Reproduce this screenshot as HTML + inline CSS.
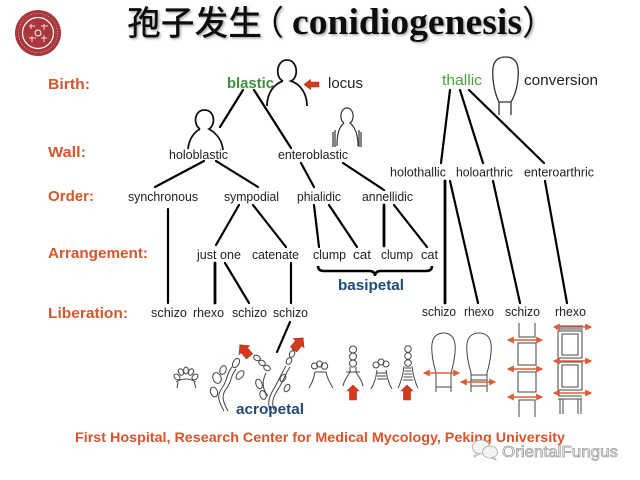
<!DOCTYPE html>
<html><head><meta charset="utf-8"><style>
html,body{margin:0;padding:0;background:#fff;}
svg{display:block;}
.lbl{font-family:"Liberation Sans",Arial,sans-serif;font-weight:bold;font-size:15px;fill:#d4572e;}
.nd{font-family:"Liberation Sans",Arial,sans-serif;font-size:12.5px;fill:#222;}
.ln{stroke:#000;stroke-width:2.2;fill:none;stroke-linecap:round;}
.dr{stroke:#444;stroke-width:1;fill:none;}
.ra{fill:#d63a1a;stroke:#a8301a;stroke-width:0.6;}
.da{stroke:#d9603a;stroke-width:1.4;fill:none;}
</style></head><body>
<svg width="640" height="480" viewBox="0 0 640 480" xmlns="http://www.w3.org/2000/svg">
<defs>
<filter id="sh" x="-5%" y="-20%" width="110%" height="150%">
<feDropShadow dx="1.5" dy="1.5" stdDeviation="1" flood-color="#777" flood-opacity="0.6"/>
</filter>
<marker id="ah" viewBox="0 0 6 6" refX="5" refY="3" markerWidth="5" markerHeight="5" orient="auto-start-reverse">
<path d="M0,0 L6,3 L0,6 Z" fill="#d9603a"/>
</marker>
</defs>
<rect width="640" height="480" fill="#fff"/>

<!-- logo -->
<circle cx="38" cy="33" r="23" fill="#a8383c"/>
<circle cx="38" cy="33" r="15.5" fill="none" stroke="#fff" stroke-width="1.2"/>
<circle cx="38" cy="33" r="19.5" fill="none" stroke="#f3d0d0" stroke-width="0.5" stroke-dasharray="1.5 1.5"/>
<circle cx="38" cy="33" r="3" fill="none" stroke="#fff" stroke-width="1"/>
<path d="M29,26 h6 M31,24 v5 M41,26 h7 M44,24 v6 M29,38 h7 M32,36 v6 M41,38 h6 M44,35 v7" stroke="#fce" stroke-width="1"/>

<!-- title -->
<g filter="url(#sh)">
<text x="127" y="35" font-family="'Noto Sans CJK SC','WenQuanYi Zen Hei',sans-serif" font-size="34" font-weight="500" fill="#111" textLength="135" lengthAdjust="spacingAndGlyphs">孢子发生</text>
<text x="250" y="35" font-family="'Noto Sans CJK SC','WenQuanYi Zen Hei',sans-serif" font-size="34" fill="#111">（</text>
<text x="292" y="34" font-family="'Liberation Serif','Times New Roman',serif" font-size="37" font-weight="bold" fill="#111" textLength="230" lengthAdjust="spacingAndGlyphs">conidiogenesis</text>
<text x="522" y="35" font-family="'Noto Sans CJK SC','WenQuanYi Zen Hei',sans-serif" font-size="34" fill="#111">）</text>
</g>

<!-- row labels -->
<text class="lbl" x="48" y="89" textLength="42" lengthAdjust="spacingAndGlyphs">Birth:</text>
<text class="lbl" x="48" y="157" textLength="38" lengthAdjust="spacingAndGlyphs">Wall:</text>
<text class="lbl" x="48" y="201" textLength="46" lengthAdjust="spacingAndGlyphs">Order:</text>
<text class="lbl" x="48" y="258" textLength="100" lengthAdjust="spacingAndGlyphs">Arrangement:</text>
<text class="lbl" x="48" y="318" textLength="80" lengthAdjust="spacingAndGlyphs">Liberation:</text>

<!-- birth row -->
<text x="227" y="88" font-family="'Liberation Sans',Arial,sans-serif" font-weight="bold" font-size="15" fill="#3f8f3a" textLength="47" lengthAdjust="spacingAndGlyphs">blastic</text>
<text x="328" y="88" font-family="'Liberation Sans',Arial,sans-serif" font-size="15" fill="#222" textLength="35" lengthAdjust="spacingAndGlyphs">locus</text>
<text x="442" y="85" font-family="'Liberation Sans',Arial,sans-serif" font-size="15" fill="#4aa043" textLength="40" lengthAdjust="spacingAndGlyphs">thallic</text>
<text x="524" y="85" font-family="'Liberation Sans',Arial,sans-serif" font-size="15" fill="#222" textLength="74" lengthAdjust="spacingAndGlyphs">conversion</text>

<!-- head figure (locus) -->
<path d="M283,81 C275,78 276,60 287,60 C298,60 299,78 291,81 C300,84 307,93 307,106 M283,81 C274,84 267,93 267,106" stroke="#111" stroke-width="1.8" fill="none"/>
<path class="ra" d="M304,84.5 L310.5,79.5 L310.5,82 L319,82 L319,87 L310.5,87 L310.5,89.5 Z"/>

<!-- balloon conversion -->
<path d="M499,102 C494,92 492,78 493,68 C494,60 499,57 505.5,57 C512,57 517,60 518,68 C519,78 517,92 511,102 M499,102 L511,102 M499,102 L499,115 M511,102 L511,115" stroke="#333" stroke-width="1.3" fill="none"/>

<!-- holoblastic figure -->
<path d="M200,129 C193,125 194,110 204.5,110 C215,110 216,125 209,129 C216,133 222,140 223,150 M200,129 C193,133 189,140 188,149" stroke="#111" stroke-width="1.8" fill="none"/>
<!-- enteroblastic small figure -->
<path d="M344,123 C339,120 340,108 347,108 C354,108 355,120 350,123 C355,127 358,134 358,146 M344,123 C339,127 337,134 337,146" stroke="#333" stroke-width="1.2" fill="none"/>
<path d="M333,132 L333,147 M361,132 L361,147 M335,130 L335,147 M359,130 L359,147" stroke="#333" stroke-width="1.2" fill="none"/>

<!-- tree lines -->
<g class="ln">
<path d="M243,90 L220,127"/>
<path d="M254,90 L291,148"/>
<path d="M450,90 L441,163"/>
<path d="M460,90 L483,163"/>
<path d="M469,90 L544,163"/>
<path d="M204,161 L155,187"/>
<path d="M216,161 L258,187"/>
<path d="M301,163 L314,187"/>
<path d="M343,163 L384,190"/>
<path d="M168,209 L168,303"/>
<path d="M239,205 L216,245"/>
<path d="M253,205 L286,247"/>
<path d="M314,205 L319,247"/>
<path d="M329,205 L357,247"/>
<path d="M384,205 L384,246" stroke-width="2.8"/>
<path d="M394,205 L427,247"/>
<path d="M215,263 L215,303" stroke-width="2.8"/>
<path d="M225,263 L249,303"/>
<path d="M291,263 L291,303"/>
<path d="M445,181 L445,303" stroke-width="2.8"/>
<path d="M450,181 L478,303"/>
<path d="M493,181 L520,303"/>
<path d="M545,181 L567,303"/>
<path d="M290,322 L277,352"/>
</g>

<!-- node labels -->
<text class="nd" x="169" y="159" textLength="59" lengthAdjust="spacingAndGlyphs">holoblastic</text>
<text class="nd" x="278" y="159" textLength="70" lengthAdjust="spacingAndGlyphs">enteroblastic</text>
<text class="nd" x="390" y="176.5" textLength="56" lengthAdjust="spacingAndGlyphs">holothallic</text>
<text class="nd" x="456" y="176.5" textLength="57" lengthAdjust="spacingAndGlyphs">holoarthric</text>
<text class="nd" x="524" y="176.5" textLength="70" lengthAdjust="spacingAndGlyphs">enteroarthric</text>

<text class="nd" x="128" y="201" textLength="70" lengthAdjust="spacingAndGlyphs">synchronous</text>
<text class="nd" x="224" y="201" textLength="55" lengthAdjust="spacingAndGlyphs">sympodial</text>
<text class="nd" x="297" y="201" textLength="44" lengthAdjust="spacingAndGlyphs">phialidic</text>
<text class="nd" x="362" y="201" textLength="51" lengthAdjust="spacingAndGlyphs">annellidic</text>

<text class="nd" x="197" y="259" textLength="44" lengthAdjust="spacingAndGlyphs">just one</text>
<text class="nd" x="252" y="259" textLength="47" lengthAdjust="spacingAndGlyphs">catenate</text>
<text class="nd" x="313" y="259" textLength="33" lengthAdjust="spacingAndGlyphs">clump</text>
<text class="nd" x="353" y="259" textLength="18" lengthAdjust="spacingAndGlyphs">cat</text>
<text class="nd" x="381" y="259" textLength="32" lengthAdjust="spacingAndGlyphs">clump</text>
<text class="nd" x="421" y="259" textLength="17" lengthAdjust="spacingAndGlyphs">cat</text>

<text class="nd" x="151" y="317" textLength="36" lengthAdjust="spacingAndGlyphs">schizo</text>
<text class="nd" x="193" y="317" textLength="31" lengthAdjust="spacingAndGlyphs">rhexo</text>
<text class="nd" x="232" y="317" textLength="35" lengthAdjust="spacingAndGlyphs">schizo</text>
<text class="nd" x="273" y="317" textLength="35" lengthAdjust="spacingAndGlyphs">schizo</text>
<text class="nd" x="422" y="316" textLength="34" lengthAdjust="spacingAndGlyphs">schizo</text>
<text class="nd" x="464" y="316" textLength="30" lengthAdjust="spacingAndGlyphs">rhexo</text>
<text class="nd" x="505" y="316" textLength="35" lengthAdjust="spacingAndGlyphs">schizo</text>
<text class="nd" x="555" y="316" textLength="31" lengthAdjust="spacingAndGlyphs">rhexo</text>

<!-- brace + basipetal -->
<path d="M318,266 Q318,271 324,271 L369,271 Q375,271 375,276 Q375,271 381,271 L426,271 Q432,271 432,266" stroke="#000" stroke-width="2.5" fill="none"/>
<text x="338" y="290" font-family="'Liberation Sans',Arial,sans-serif" font-weight="bold" font-size="15" fill="#1f4a7a" textLength="66" lengthAdjust="spacingAndGlyphs">basipetal</text>

<!-- drawings: acropetal -->
<g class="dr">
<ellipse cx="177" cy="377" rx="2.4" ry="3.4" transform="rotate(-50 177 377)"/>
<ellipse cx="181" cy="372" rx="2.4" ry="3.4" transform="rotate(-25 181 372)"/>
<ellipse cx="186" cy="370.5" rx="2.4" ry="3.4"/>
<ellipse cx="191" cy="372" rx="2.4" ry="3.4" transform="rotate(25 191 372)"/>
<ellipse cx="195" cy="377" rx="2.4" ry="3.4" transform="rotate(50 195 377)"/>
<path d="M176,382 Q186,376 196,382 M178,382 L177,388 M194,382 L196,388"/>

<path d="M224,411 C219,402 216,396 222,388 C228,380 226,374 232,367"/>
<path d="M228,411 C223,402 221,396 226,389 C232,382 230,376 236,369"/>
<ellipse cx="236" cy="363" rx="3" ry="5" transform="rotate(30 236 363)"/>
<ellipse cx="240" cy="375" rx="3" ry="5" transform="rotate(40 240 375)"/>
<ellipse cx="217" cy="378" rx="4" ry="5.5" transform="rotate(-20 217 378)"/>
<ellipse cx="214" cy="392" rx="3.5" ry="5" transform="rotate(-20 214 392)"/>
<ellipse cx="223" cy="370" rx="3" ry="4.5" transform="rotate(20 223 370)"/>

<path d="M270,410 C266,400 272,392 276,385 C280,378 282,372 286,366"/>
<path d="M274,410 C270,400 276,393 280,386 C284,379 286,373 290,367"/>
<path d="M268,396 C262,389 262,381 266,373"/>
<ellipse cx="289" cy="361" rx="2.5" ry="3.5" transform="rotate(30 289 361)"/>
<ellipse cx="292" cy="354" rx="2.5" ry="3.5" transform="rotate(30 292 354)"/>
<ellipse cx="295" cy="347" rx="2.5" ry="3.5" transform="rotate(30 295 347)"/>
<ellipse cx="257" cy="358" rx="3.5" ry="2.5" transform="rotate(30 257 358)"/>
<ellipse cx="262" cy="363" rx="3.5" ry="2.5" transform="rotate(30 262 363)"/>
<ellipse cx="267" cy="368" rx="3.5" ry="2.5" transform="rotate(30 267 368)"/>
<ellipse cx="259" cy="384" rx="3" ry="5" transform="rotate(-20 259 384)"/>
<ellipse cx="263" cy="395" rx="3" ry="4.5" transform="rotate(-20 263 395)"/>
<ellipse cx="283" cy="378" rx="2.5" ry="4" transform="rotate(30 283 378)"/>
<ellipse cx="287" cy="388" rx="2.5" ry="4" transform="rotate(30 287 388)"/>
</g>
<path class="ra" transform="translate(245,351) rotate(-40)" d="M-7,-1 L0,-8 L7,-1 L4,-1 L4,7 L-4,7 L-4,-1 Z"/>
<path class="ra" transform="translate(298,344) rotate(40)" d="M-7,-1 L0,-8 L7,-1 L4,-1 L4,7 L-4,7 L-4,-1 Z"/>
<text x="236" y="414" font-family="'Liberation Sans',Arial,sans-serif" font-weight="bold" font-size="15" fill="#1f4a7a" textLength="68" lengthAdjust="spacingAndGlyphs">acropetal</text>

<!-- drawings: basipetal -->
<g class="dr">
<circle cx="314.5" cy="366" r="3"/><circle cx="319.5" cy="364" r="3"/><circle cx="324.5" cy="366" r="3.2"/>
<path d="M315,372 L326,372 M315,372 C314,378 312,383 309,388 M326,372 C327,378 330,383 333,388"/>

<circle cx="353" cy="349.5" r="3.5"/><circle cx="353" cy="356.5" r="3.5"/><circle cx="353" cy="363.5" r="3.5"/>
<path d="M350,367 L350,372 M356,367 L356,372 M346,372 L360,372 M350,372 C348,376 344,380 343,386 M356,372 C358,376 362,380 363,386"/>

<circle cx="376" cy="365" r="3"/><circle cx="381" cy="362" r="3"/><circle cx="386" cy="364" r="3"/>
<path d="M377,373 L386,373 M377,376 L386,376 M377,379 L387,379 M377,370 C376,379 374,384 371,389 M386,370 C387,379 389,384 392,389"/>

<circle cx="408" cy="349" r="3.3"/><circle cx="408" cy="356" r="3.3"/><circle cx="408" cy="363" r="3.3"/>
<path d="M405,368 L411,368 M404.5,371 L411.5,371 M404,374 L412,374 M403.5,377 L412.5,377 M403,380 L413,380 M404,366 C403,375 401,382 398,388 M412,366 C413,375 415,382 418,388"/>
</g>
<path class="ra" transform="translate(353,392)" d="M-6,-1 L0,-7 L6,-1 L3.5,-1 L3.5,8 L-3.5,8 L-3.5,-1 Z"/>
<path class="ra" transform="translate(407,392)" d="M-6,-1 L0,-7 L6,-1 L3.5,-1 L3.5,8 L-3.5,8 L-3.5,-1 Z"/>

<!-- drawings: thallic -->
<g class="dr" stroke-width="1.2">
<path d="M436,392 L436,373 C433,362 431,352 432,344 C433,336 438,333 443.5,333 C449,333 454,336 455,344 C456,352 454,362 451,373 L451,392 M436,373 L451,373 M436,387 L451,387"/>
<path d="M471,392 L471,373 C468,362 466,352 467,344 C468,336 473,333 479,333 C485,333 490,336 491,344 C492,352 490,362 487,373 L487,392 M471,375 L487,375 M471,380 L487,380 M471,386 L487,386"/>

<path d="M519,323 L519,337 L535,337 L535,323"/>
<rect x="518" y="343" width="18" height="22"/>
<rect x="518" y="372" width="18" height="20"/>
<path d="M519,417 L519,400 L535,400 L535,417"/>

<path d="M556,326 L583,326 M556,329 L583,329"/>
<rect x="558" y="331" width="24" height="27"/>
<rect x="562" y="334" width="16" height="21"/>
<rect x="558" y="362" width="24" height="28"/>
<rect x="562" y="365" width="16" height="22"/>
<path d="M558,396 L582,396 M558,399 L582,399 M560,399 L560,414 M563,399 L563,414 M578,399 L578,414 M581,399 L581,414"/>
</g>
<g class="da">
<path d="M424,373 L459,373" marker-start="url(#ah)" marker-end="url(#ah)"/>
<path d="M461,382 L495,382" marker-start="url(#ah)" marker-end="url(#ah)"/>
<path d="M508,340 L542,340" marker-start="url(#ah)" marker-end="url(#ah)"/>
<path d="M508,369 L542,369" marker-start="url(#ah)" marker-end="url(#ah)"/>
<path d="M508,397 L542,397" marker-start="url(#ah)" marker-end="url(#ah)"/>
<path d="M554,327 L591,327" marker-start="url(#ah)" marker-end="url(#ah)"/>
<path d="M554,361 L591,361" marker-start="url(#ah)" marker-end="url(#ah)"/>
<path d="M554,393 L591,393" marker-start="url(#ah)" marker-end="url(#ah)"/>
</g>

<!-- footer -->
<text x="75" y="442" font-family="'Liberation Sans',Arial,sans-serif" font-weight="bold" font-size="14" fill="#d9542c" textLength="490" lengthAdjust="spacingAndGlyphs">First Hospital, Research Center for Medical Mycology, Peking University</text>

<!-- watermark -->
<g fill="#f4f4f4" stroke="#a8a8a8" stroke-width="0.8">
<ellipse cx="481" cy="447" rx="8.5" ry="7"/>
<path d="M476,453 L474,457 L480,454 Z"/>
<ellipse cx="490" cy="452" rx="7.5" ry="6"/>
<path d="M494,457 L496,460 L491,458 Z"/>
</g>
<text x="502" y="457" font-family="'Liberation Sans',Arial,sans-serif" font-size="15.5" fill="#f2f2f2" stroke="#9a9a9a" stroke-width="0.7" textLength="116" lengthAdjust="spacingAndGlyphs">OrientalFungus</text>
</svg>
</body></html>
